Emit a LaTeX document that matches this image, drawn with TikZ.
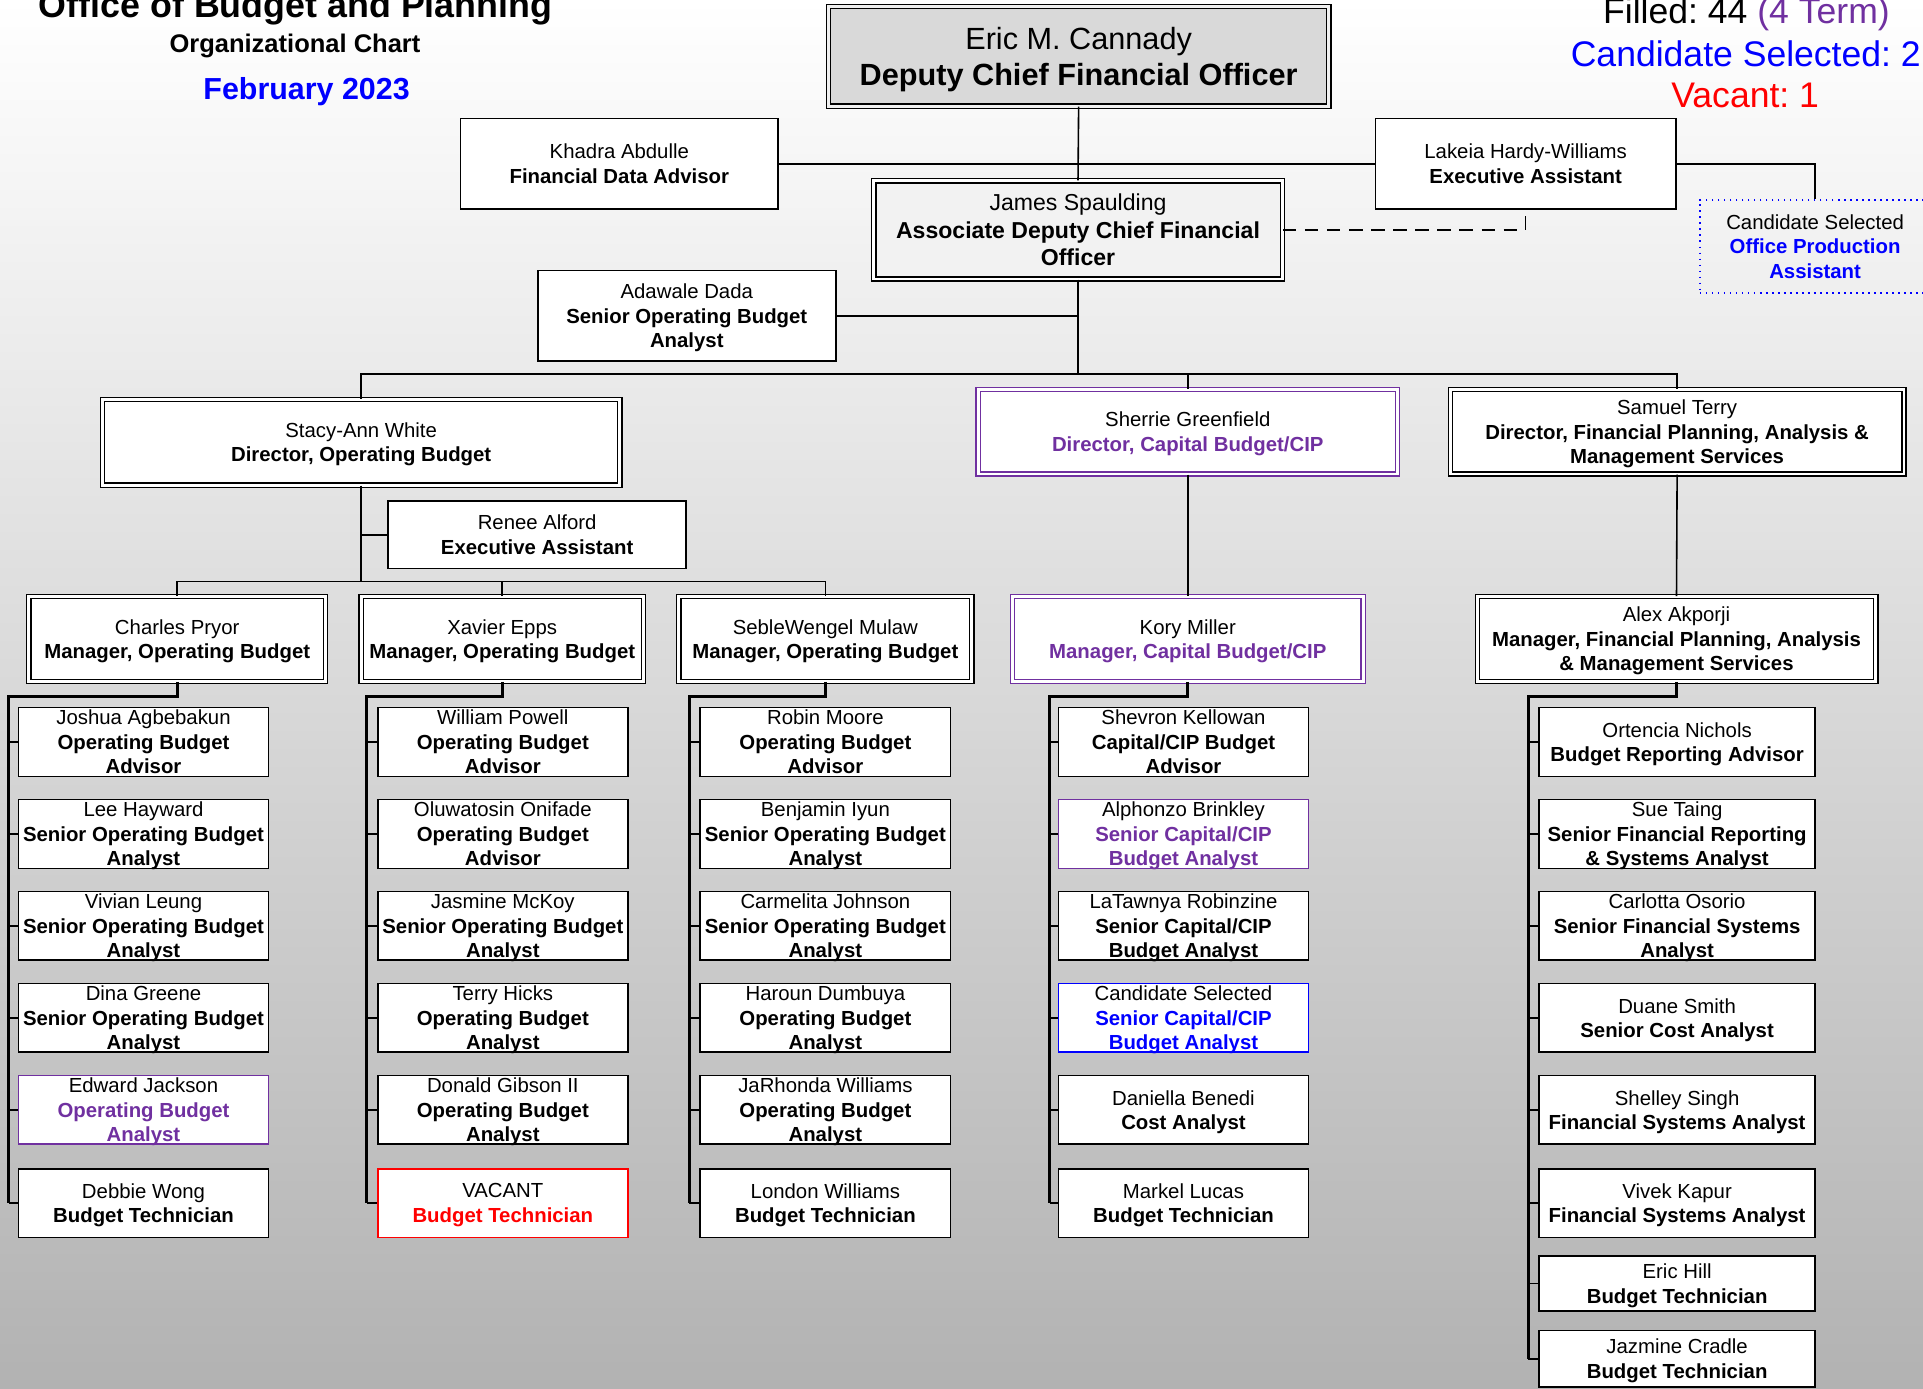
\documentclass[tikz,border=0pt]{standalone}
\usepackage{fontspec}
\setmainfont{Liberation Sans}
\usetikzlibrary{calc}
\frenchspacing
\definecolor{purp}{RGB}{112,48,160}
\definecolor{bgbot}{RGB}{178,178,178}
\definecolor{ericfill}{RGB}{217,217,217}
\definecolor{jamesfill}{RGB}{242,242,242}
\definecolor{cblue}{RGB}{0,0,255}
\definecolor{cred}{RGB}{255,0,0}
\tikzset{
  basebox/.style={rectangle, inner sep=0pt, align=center, fill=white, text depth=0pt,
    font=\fontsize{16.6}{20}\selectfont},
  pbox/.style={basebox, draw=black, line width=1.3pt},
  dbox/.style={basebox, draw=black, line width=1pt, double=white, double distance=2.4pt},
  colbox/.style={pbox, minimum width=204pt, minimum height=56pt},
  colwide/.style={pbox, minimum width=225pt, minimum height=56pt},
  conn/.style={line width=1.3pt, draw=black},
  colline/.style={line width=2.6pt, draw=black},
  tick/.style={line width=1.3pt, draw=black},
}
\begin{document}
\frenchspacing
\begin{tikzpicture}[x=1pt,y=-1pt]
\useasboundingbox (0,0) rectangle (1568,1132);
\clip (0,0) rectangle (1568,1132);
\shade[top color=white, bottom color=bgbot] (0,0) rectangle (1568,1132);

% titles
\node[anchor=base, font=\bfseries\fontsize{29.2}{35}\selectfont] (t1) at (241,14) {Office of Budget and Planning};
\node[anchor=base, font=\bfseries\fontsize{20.8}{25}\selectfont] (t2) at (240.5,43) {Organizational Chart};
\node[anchor=base, font=\bfseries\fontsize{24.8}{30}\selectfont, text=cblue] (t3) at (250,81) {February 2023};

\node[anchor=base, font=\fontsize{29}{35}\selectfont] (s1) at (1424,19) {Filled: 44 \textcolor{purp}{(4 Term)}};
\node[anchor=base, font=\fontsize{29}{35}\selectfont, text=cblue] (s2) at (1423.5,54) {Candidate Selected: 2};
\node[anchor=base, font=\fontsize{29}{35}\selectfont, text=cred] (s3) at (1423,88) {Vacant: 1};

% top level
\node[dbox, fill=ericfill, double=gray!12, minimum width=408pt, minimum height=81pt,
      font=\fontsize{25}{30}\selectfont] (eric) at (879.5,46)
  {Eric M. Cannady\\\textbf{Deputy Chief Financial Officer}};
\node[pbox, minimum width=259pt, minimum height=74pt] (khadra) at (505,133.5)
  {Khadra Abdulle\\\textbf{Financial Data Advisor}};
\node[pbox, minimum width=245pt, minimum height=74pt] (lakeia) at (1244,133.5)
  {Lakeia Hardy-Williams\\\textbf{Executive Assistant}};
\node[basebox, fill=none, draw=cblue, line width=1.3pt, dash pattern=on 1.3pt off 3.6pt,
      minimum width=188pt, minimum height=76pt] (candoff) at (1480,201)
  {Candidate Selected\\\textcolor{cblue}{\textbf{Office Production}}\\\textcolor{cblue}{\textbf{Assistant}}};
\node[dbox, fill=jamesfill, minimum width=333pt, minimum height=80pt,
      font=\fontsize{18.8}{22.5}\selectfont] (james) at (879,187.5)
  {James Spaulding\\\textbf{Associate Deputy Chief Financial}\\\textbf{Officer}};
\node[pbox, minimum width=243pt, minimum height=74pt] (adawale) at (560,257.5)
  {Adawale Dada\\\textbf{Senior Operating Budget}\\\textbf{Analyst}};

% directors
\node[dbox, minimum width=422pt, minimum height=70pt] (stacy) at (294.5,360.5)
  {Stacy-Ann White\\\textbf{Director, Operating Budget}};
\node[dbox, draw=purp, minimum width=342pt, minimum height=69pt] (sherrie) at (968.5,352)
  {Sherrie Greenfield\\\textcolor{purp}{\textbf{Director, Capital Budget/CIP}}};
\node[dbox, minimum width=370pt, minimum height=69pt] (samuel) at (1367.5,352)
  {Samuel Terry\\\textbf{Director, Financial Planning, Analysis \&}\\\textbf{Management Services}};
\node[pbox, minimum width=243pt, minimum height=55pt] (renee) at (438,436)
  {Renee Alford\\\textbf{Executive Assistant}};

% managers
\node[dbox, minimum width=242pt, minimum height=69pt] (charles) at (144.5,521)
  {Charles Pryor\\\textbf{Manager, Operating Budget}};
\node[dbox, minimum width=230pt, minimum height=69pt] (xavier) at (409.5,521)
  {Xavier Epps\\\textbf{Manager, Operating Budget}};
\node[dbox, minimum width=239pt, minimum height=69pt] (seble) at (673,521)
  {SebleWengel Mulaw\\\textbf{Manager, Operating Budget}};
\node[dbox, draw=purp, minimum width=286pt, minimum height=69pt] (kory) at (968.5,521)
  {Kory Miller\\\textcolor{purp}{\textbf{Manager, Capital Budget/CIP}}};
\node[dbox, minimum width=325pt, minimum height=69pt] (alex) at (1367,521)
  {Alex Akporji\\\textbf{Manager, Financial Planning, Analysis}\\\textbf{\& Management Services}};

% column A
\node[colbox] (a1) at (117,605) {Joshua Agbebakun\\\textbf{Operating Budget}\\\textbf{Advisor}};
\node[colbox] (a2) at (117,680) {Lee Hayward\\\textbf{Senior Operating Budget}\\\textbf{Analyst}};
\node[colbox] (a3) at (117,755) {Vivian Leung\\\textbf{Senior Operating Budget}\\\textbf{Analyst}};
\node[colbox] (a4) at (117,830) {Dina Greene\\\textbf{Senior Operating Budget}\\\textbf{Analyst}};
\node[colbox, draw=purp] (a5) at (117,905) {Edward Jackson\\\textcolor{purp}{\textbf{Operating Budget}}\\\textcolor{purp}{\textbf{Analyst}}};
\node[colbox] (a6) at (117,981) {Debbie Wong\\\textbf{Budget Technician}};

% column B
\node[colbox] (b1) at (410,605) {William Powell\\\textbf{Operating Budget}\\\textbf{Advisor}};
\node[colbox] (b2) at (410,680) {Oluwatosin Onifade\\\textbf{Operating Budget}\\\textbf{Advisor}};
\node[colbox] (b3) at (410,755) {Jasmine McKoy\\\textbf{Senior Operating Budget}\\\textbf{Analyst}};
\node[colbox] (b4) at (410,830) {Terry Hicks\\\textbf{Operating Budget}\\\textbf{Analyst}};
\node[colbox] (b5) at (410,905) {Donald Gibson II\\\textbf{Operating Budget}\\\textbf{Analyst}};
\node[colbox, draw=cred] (b6) at (410,981) {VACANT\\\textcolor{cred}{\textbf{Budget Technician}}};

% column C
\node[colbox] (c1) at (673,605) {Robin Moore\\\textbf{Operating Budget}\\\textbf{Advisor}};
\node[colbox] (c2) at (673,680) {Benjamin Iyun\\\textbf{Senior Operating Budget}\\\textbf{Analyst}};
\node[colbox] (c3) at (673,755) {Carmelita Johnson\\\textbf{Senior Operating Budget}\\\textbf{Analyst}};
\node[colbox] (c4) at (673,830) {Haroun Dumbuya\\\textbf{Operating Budget}\\\textbf{Analyst}};
\node[colbox] (c5) at (673,905) {JaRhonda Williams\\\textbf{Operating Budget}\\\textbf{Analyst}};
\node[colbox] (c6) at (673,981) {London Williams\\\textbf{Budget Technician}};

% column D
\node[colbox] (d1) at (965,605) {Shevron Kellowan\\\textbf{Capital/CIP Budget}\\\textbf{Advisor}};
\node[colbox, draw=purp] (d2) at (965,680) {Alphonzo Brinkley\\\textcolor{purp}{\textbf{Senior Capital/CIP}}\\\textcolor{purp}{\textbf{Budget Analyst}}};
\node[colbox] (d3) at (965,755) {LaTawnya Robinzine\\\textbf{Senior Capital/CIP}\\\textbf{Budget Analyst}};
\node[colbox, draw=cblue] (d4) at (965,830) {Candidate Selected\\\textcolor{cblue}{\textbf{Senior Capital/CIP}}\\\textcolor{cblue}{\textbf{Budget Analyst}}};
\node[colbox] (d5) at (965,905) {Daniella Benedi\\\textbf{Cost Analyst}};
\node[colbox] (d6) at (965,981) {Markel Lucas\\\textbf{Budget Technician}};

% column E
\node[colwide] (e1) at (1367.5,605) {Ortencia Nichols\\\textbf{Budget Reporting Advisor}};
\node[colwide] (e2) at (1367.5,680) {Sue Taing\\\textbf{Senior Financial Reporting}\\\textbf{\& Systems Analyst}};
\node[colwide] (e3) at (1367.5,755) {Carlotta Osorio\\\textbf{Senior Financial Systems}\\\textbf{Analyst}};
\node[colwide] (e4) at (1367.5,830) {Duane Smith\\\textbf{Senior Cost Analyst}};
\node[colwide] (e5) at (1367.5,905) {Shelley Singh\\\textbf{Financial Systems Analyst}};
\node[colwide] (e6) at (1367.5,981) {Vivek Kapur\\\textbf{Financial Systems Analyst}};
\node[colwide, minimum height=45pt] (e7) at (1367.5,1046.5) {Eric Hill\\\textbf{Budget Technician}};
\node[colwide, minimum height=46pt] (e8) at (1367.5,1108) {Jazmine Cradle\\\textbf{Budget Technician}};

% bus coordinates
\coordinate (bus) at (0,305);
\coordinate (mbus) at (0,474);
\coordinate (va) at (7,568);
\coordinate (vb) at (299,568);
\coordinate (vc) at (562,568);
\coordinate (vd) at (856,568);
\coordinate (ve) at (1246,568);

% top connectors
\draw[conn] (eric.south) -- (james.north);
\draw[conn] (khadra.east) -- (lakeia.west);
\draw[conn] (lakeia.east) -| (candoff.north);
\draw[line width=1.3pt, dash pattern=on 11pt off 7pt] (james.east) -| (lakeia.south);
\draw[conn] (adawale.east) -- (adawale.east -| james.south);
\draw[conn] (james.south) -- (james.south |- bus);
\draw[conn] (stacy.north) -- (stacy.north |- bus) -- (samuel.north |- bus) -- (samuel.north);
\draw[conn] (sherrie.north) -- (sherrie.north |- bus);

% director to manager
\draw[conn] (stacy.south) -- (stacy.south |- mbus);
\draw[conn] (renee.west) -- (renee.west -| stacy.south);
\draw[conn] (charles.north) -- (charles.north |- mbus) -- (seble.north |- mbus) -- (seble.north);
\draw[conn] (xavier.north) -- (xavier.north |- mbus);
\draw[conn] (sherrie.south) -- (kory.north);
\draw[conn] (samuel.south) -- (alex.north);

% manager columns
\draw[colline] (charles.south) |- (va) -- (va |- a6.west);
\draw[colline] (xavier.south) |- (vb) -- (vb |- b6.west);
\draw[colline] (seble.south) |- (vc) -- (vc |- c6.west);
\draw[colline] (kory.south) |- (vd) -- (vd |- d6.west);
\draw[colline] (alex.south) |- (ve) -- (ve |- e8.west);

\foreach \n in {a1,a2,a3,a4,a5,a6} {\draw[tick] (\n.west) -- (\n.west -| va);}
\foreach \n in {b1,b2,b3,b4,b5,b6} {\draw[tick] (\n.west) -- (\n.west -| vb);}
\foreach \n in {c1,c2,c3,c4,c5,c6} {\draw[tick] (\n.west) -- (\n.west -| vc);}
\foreach \n in {d1,d2,d3,d4,d5,d6} {\draw[tick] (\n.west) -- (\n.west -| vd);}
\foreach \n in {e1,e2,e3,e4,e5,e6,e7,e8} {\draw[tick] (\n.west) -- (\n.west -| ve);}
\end{tikzpicture}
\end{document}
